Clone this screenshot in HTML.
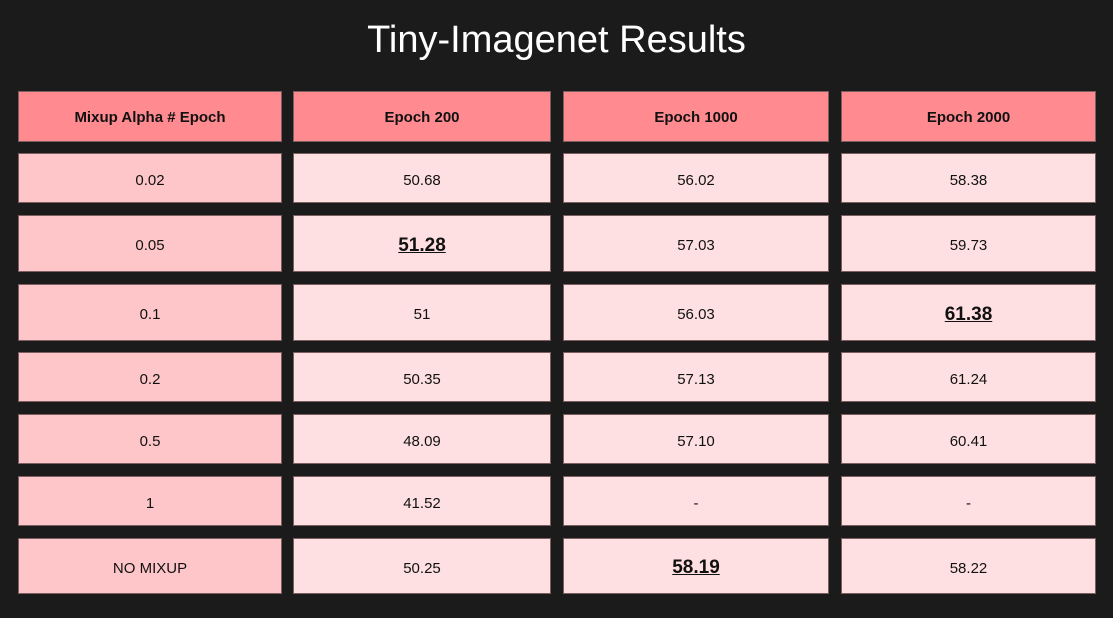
<!DOCTYPE html>
<html><head><meta charset="utf-8"><style>
html,body{margin:0;padding:0;background:#1b1b1b;}
#wrap{position:relative;width:1113px;height:618px;overflow:hidden;background:#1b1b1b;font-family:"Liberation Sans",sans-serif;}
#title{position:absolute;left:0;top:19px;width:1113px;text-align:center;color:#fff;font-size:38px;font-weight:300;}
.cell{position:absolute;box-sizing:border-box;border:1px solid #7a5e60;display:flex;align-items:center;justify-content:center;font-size:15px;color:#111;padding-top:4px;}
.hd{background:#ff8a8f;font-weight:bold;font-size:15px;padding-top:2px;}
.c1{background:#ffc6c9;}
.cv{background:#ffe0e2;}
.best{font-weight:bold;text-decoration:underline;font-size:19px;}
</style></head><body>
<div id="wrap">
<div id="title">Tiny-Imagenet Results</div>
</div>
<script>
const headers=["Mixup Alpha # Epoch","Epoch 200","Epoch 1000","Epoch 2000"];
const alphas=["0.02","0.05","0.1","0.2","0.5","1","NO MIXUP"];
const epoch200=["50.68","51.28","51","50.35","48.09","41.52","50.25"];
const epoch1000=["56.02","57.03","56.03","57.13","57.10","-","58.19"];
const epoch2000=["58.38","59.73","61.38","61.24","60.41","-","58.22"];
const colX=[[18,282],[293,551],[563,829],[841,1096]];
const rowY=[[91,142],[153,203],[215,272],[284,341],[352,402],[414,464],[476,526],[538,594]];
const wrap=document.getElementById('wrap');
function best(arr){let m=-1,i=-1;arr.forEach((v,k)=>{const n=parseFloat(v);if(!isNaN(n)&&n>m){m=n;i=k;}});return i;}
const cols=[alphas,epoch200,epoch1000,epoch2000];
const bests=[-1,best(epoch200),best(epoch1000),best(epoch2000)];
for(let c=0;c<4;c++){
  for(let r=0;r<8;r++){
    const d=document.createElement('div');
    d.className='cell '+(r===0?'hd':(c===0?'c1':'cv'));
    d.style.left=colX[c][0]+'px';d.style.width=(colX[c][1]-colX[c][0])+'px';
    d.style.top=rowY[r][0]+'px';d.style.height=(rowY[r][1]-rowY[r][0])+'px';
    if(r===0){
      d.textContent=headers[c];
      
    }else{
      const v=cols[c][r-1];
      if(c>0&&bests[c]===r-1){const s=document.createElement('span');s.className='best';s.textContent=v;d.appendChild(s);}
      else d.textContent=v;
      
    }
    
    wrap.appendChild(d);
  }
}
</script>
</body></html>
